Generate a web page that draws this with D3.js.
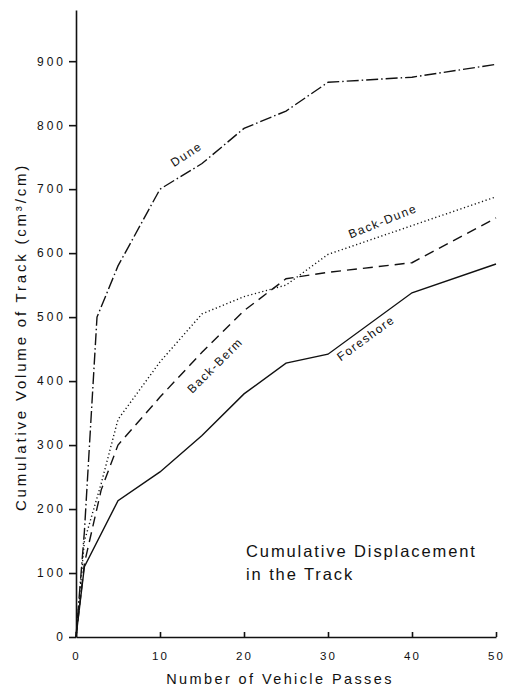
<!DOCTYPE html>
<html>
<head>
<meta charset="utf-8">
<script src="https://cdn.jsdelivr.net/npm/d3@7"></script>
<style>
  body { margin: 0; background: #fff; }
  svg { display: block; font-family: "Liberation Sans", Arial, sans-serif; }
</style>
</head>
<body>
<svg width="508" height="687"></svg>
<script>
// passes / cumulative volume
const foreshore = [[0, 0], [1, 110], [5, 213], [10, 258], [15, 315], [20, 380], [25, 428], [30, 442], [40, 538], [50, 583]];
const backBerm = [[0, 0], [1, 115], [3, 230], [5, 300], [10, 375], [15, 445], [20, 510], [25, 560], [30, 570], [40, 585], [50, 655]];
const backDune = [[0, 0], [1, 150], [3, 240], [5, 340], [10, 430], [15, 505], [20, 532], [25, 550], [30, 598], [40, 643], [50, 688]];
const dune = [[0, 0], [1, 165], [2.5, 500], [5, 580], [10, 700], [15, 740], [20, 795], [25, 822], [30, 867], [40, 875], [50, 895]];

const xTicks = [0, 10, 20, 30, 40, 50];
const yTicks = [0, 100, 200, 300, 400, 500, 600, 700, 800, 900];

const series = [
  { name: "Foreshore", values: foreshore, dash: null, lx: 34.8, ly: 462, angle: -36 },
  { name: "Back-Berm", values: backBerm, dash: "10,6", lx: 16.9, ly: 420, angle: -45 },
  { name: "Back-Dune", values: backDune, dash: "1.2,2.6", lx: 36.7, ly: 644, angle: -22 },
  { name: "Dune", values: dune, dash: "12,3,1.5,3", lx: 13.4, ly: 749, angle: -33 }
];

const svg = d3.select("svg");

const x = d3.scaleLinear().domain([0, 50]).range([76, 496]);
const y = d3.scaleLinear().domain([0, 980]).range([637, 10]);

// axes
const xAxis = svg.append("g")
    .attr("transform", "translate(0," + y(0) + ")")
    .call(d3.axisBottom(x).tickValues(xTicks).tickSize(-5).tickPadding(9).tickSizeOuter(0));
xAxis.selectAll("text").attr("font-size", 11.5).attr("letter-spacing", "2px").attr("dy", "1.2em");

const yAxis = svg.append("g")
    .attr("transform", "translate(" + x(0) + ",0)")
    .call(d3.axisLeft(y).tickValues(yTicks).tickSize(7).tickPadding(3).tickSizeOuter(0));
yAxis.selectAll("text").attr("font-size", 12).attr("letter-spacing", "3px");

svg.selectAll(".domain, .tick line").attr("stroke", "#111").attr("stroke-width", 1.6);
svg.selectAll(".tick text").attr("fill", "#111").attr("font-family", "Liberation Sans, Arial, sans-serif");

// lines
const line = d3.line()
    .x(function (d) { return x(d[0]); })
    .y(function (d) { return y(d[1]); });

svg.selectAll(".series")
    .data(series)
    .enter().append("path")
    .attr("class", "series")
    .attr("d", function (d) { return line(d.values); })
    .attr("fill", "none")
    .attr("stroke", "#111")
    .attr("stroke-width", 1.4)
    .attr("stroke-dasharray", function (d) { return d.dash; });

// line labels
svg.selectAll(".lbl")
    .data(series)
    .enter().append("text")
    .attr("class", "lbl")
    .attr("transform", function (d) { return "translate(" + x(d.lx) + "," + y(d.ly) + ") rotate(" + d.angle + ")"; })
    .attr("text-anchor", "middle")
    .attr("font-size", 12)
    .attr("letter-spacing", "1.5px")
    .attr("fill", "#111")
    .text(function (d) { return d.name; });

// axis titles
svg.append("text")
    .attr("x", 280)
    .attr("y", 684)
    .attr("text-anchor", "middle")
    .attr("font-size", 14.5)
    .attr("letter-spacing", "2.4px")
    .attr("fill", "#111")
    .text("Number of Vehicle Passes");

svg.append("text")
    .attr("transform", "translate(26,337) rotate(-90)")
    .attr("text-anchor", "middle")
    .attr("font-size", 15)
    .attr("letter-spacing", "2.8px")
    .attr("fill", "#111")
    .text("Cumulative Volume of Track (cm³/cm)");

// note
const note = svg.append("text")
    .attr("font-size", 16.5)
    .attr("letter-spacing", "1.9px")
    .attr("fill", "#111");
note.append("tspan").attr("x", 246).attr("y", 557).text("Cumulative Displacement");
note.append("tspan").attr("x", 246).attr("y", 580).text("in the Track");
</script>
</body>
</html>
